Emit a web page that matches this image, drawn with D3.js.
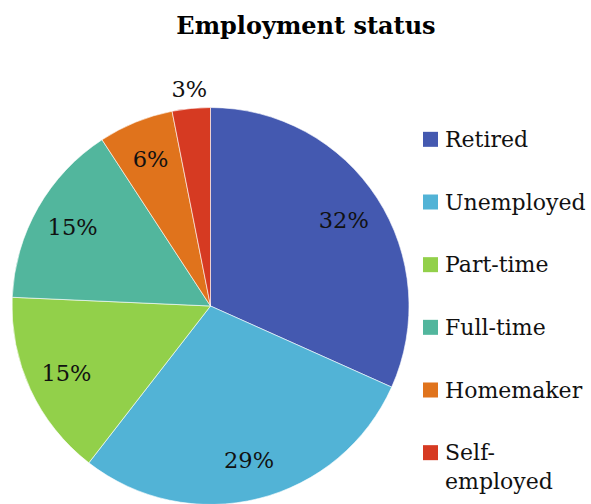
<!DOCTYPE html>
<html lang="en">
<head>
    <meta charset="UTF-8">
    <title>Employment status</title>
    <script src="https://cdn.jsdelivr.net/npm/d3@7"></script>
    <style>
        body { margin: 0; background: #fff; }
        text { font-family: "DejaVu Serif", "Liberation Serif", serif; }
    </style>
</head>
<body>
    <svg id="main" width="591" height="504"></svg>
    <script>
        const categories = ['Retired', 'Unemployed', 'Part-time', 'Full-time', 'Homemaker', 'Self-employed'];
        const values = [31.7, 28.8, 15.2, 15.1, 6.1, 3.1];
        const colors = ['#4459b0', '#52b3d6', '#92d04a', '#52b69d', '#e0731c', '#d63a22'];
        const legendLines = [['Retired'], ['Unemployed'], ['Part-time'], ['Full-time'], ['Homemaker'], ['Self-', 'employed']];

        const svg = d3.select('#main');
        const cx = 210.5, cy = 306, radius = 198.5;

        svg.append('text')
            .attr('x', 306)
            .attr('y', 34)
            .attr('text-anchor', 'middle')
            .attr('font-size', 24)
            .attr('font-weight', 'bold')
            .text('Employment status');

        const total = d3.sum(values);
        const pie = d3.pie().sort(null).value(d => d);
        const arcs = pie(values);
        const arc = d3.arc().innerRadius(0).outerRadius(radius);
        const color = d3.scaleOrdinal().domain(categories).range(colors);

        const g = svg.append('g').attr('transform', `translate(${cx},${cy})`);

        g.selectAll('path')
            .data(arcs)
            .enter()
            .append('path')
            .attr('d', arc)
            .attr('fill', (d, i) => color(categories[i]))
            .attr('stroke', '#fff')
            .attr('stroke-width', 0.6);

        // labels inside, smallest one goes outside
        const inner = d3.arc().innerRadius(radius * 0.8).outerRadius(radius * 0.8);
        const outer = d3.arc().innerRadius(radius + 20).outerRadius(radius + 20);
        g.selectAll('.lbl')
            .data(arcs)
            .enter()
            .append('text')
            .attr('class', 'lbl')
            .attr('transform', d => {
                const p = (d.data / total < 0.05 ? outer : inner).centroid(d);
                return `translate(${p[0]},${p[1]})`;
            })
            .attr('text-anchor', 'middle')
            .attr('dy', '0.36em')
            .attr('font-size', 22.5)
            .attr('fill', '#111')
            .text(d => Math.round(d.data / total * 100) + '%');

        // legend
        const ly = d3.scaleBand().domain(categories).range([108, 484]);
        const leg = svg.append('g');
        const item = leg.selectAll('g')
            .data(categories)
            .enter()
            .append('g')
            .attr('transform', d => `translate(423,${ly(d) + ly.bandwidth() / 2})`);

        item.append('rect')
            .attr('x', 0)
            .attr('y', -7.5)
            .attr('width', 15)
            .attr('height', 15)
            .attr('fill', d => color(d));

        item.append('text')
            .attr('font-size', 22)
            .attr('fill', '#111')
            .selectAll('tspan')
            .data((d, i) => legendLines[i])
            .enter()
            .append('tspan')
            .attr('x', 22)
            .attr('y', (t, j) => 7.5 + j * 29)
            .text(t => t);
    </script>
</body>
</html>
